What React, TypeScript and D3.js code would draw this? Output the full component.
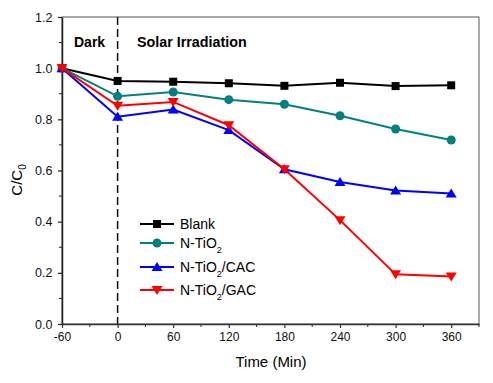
import React, { useEffect, useRef } from "react";
import * as d3 from "d3";

// time points (min)
const times = [-60, 0, 60, 120, 180, 240, 300, 360];
const blank = [1.0, 0.95, 0.947, 0.941, 0.931, 0.943, 0.93, 0.933];
const nTiO2 = [1.0, 0.89, 0.907, 0.877, 0.859, 0.814, 0.762, 0.719];
const nTiO2CAC = [1.0, 0.81, 0.838, 0.758, 0.605, 0.555, 0.522, 0.51];
const nTiO2GAC = [1.0, 0.853, 0.868, 0.777, 0.605, 0.406, 0.194, 0.186];

const xTicks = [-60, 0, 60, 120, 180, 240, 300, 360];
const yTicks = [0.0, 0.2, 0.4, 0.6, 0.8, 1.0, 1.2];

const seriesList = [
  { name: "Blank", sub: "", tail: "", values: blank, color: "#000000", marker: "square" },
  { name: "N-TiO", sub: "2", tail: "", values: nTiO2, color: "#008080", marker: "circle" },
  { name: "N-TiO", sub: "2", tail: "/CAC", values: nTiO2CAC, color: "#0000ff", marker: "up" },
  { name: "N-TiO", sub: "2", tail: "/GAC", values: nTiO2GAC, color: "#ff0000", marker: "down" },
];

const font = "'Liberation Sans', Arial, sans-serif";

function App() {
  const ref = useRef<SVGSVGElement>(null);

  useEffect(() => {
    const svg = d3.select(ref.current);
    svg.selectAll("*").remove();

    const left = 62, right = 479, top = 17, bottom = 324;
    const x = d3.scaleLinear().domain([-60, 390]).range([left, right]);
    const y = d3.scaleLinear().domain([0, 1.2]).range([bottom, top]);

    svg.append("rect").attr("width", 493).attr("height", 383).attr("fill", "#fff");

    // frame (top/right)
    svg.append("rect")
      .attr("x", left).attr("y", top)
      .attr("width", right - left).attr("height", bottom - top)
      .attr("fill", "none").attr("stroke", "#555").attr("stroke-width", 1);

    // x axis
    const xAxis = svg.append("g").attr("transform", `translate(0,${bottom})`)
      .call(d3.axisBottom(x).tickValues(xTicks).tickSize(4).tickSizeOuter(0).tickFormat((d: any) => String(d)));
    xAxis.select(".domain").attr("stroke", "#333").attr("stroke-width", 1.5);
    xAxis.selectAll(".tick line").attr("stroke", "#333").attr("stroke-width", 1.2);
    xAxis.selectAll("text").attr("font-family", font).attr("font-size", 12).attr("fill", "#111").attr("dy", "0.85em");
    svg.append("g").attr("transform", `translate(0,${bottom})`)
      .selectAll("line").data(d3.range(-30, 391, 60)).join("line")
      .attr("x1", (d) => x(d)).attr("x2", (d) => x(d)).attr("y1", 0).attr("y2", 3)
      .attr("stroke", "#333").attr("stroke-width", 1);

    // y axis
    const yAxis = svg.append("g").attr("transform", `translate(${left},0)`)
      .call(d3.axisLeft(y).tickValues(yTicks).tickSize(4).tickSizeOuter(0).tickFormat(d3.format(".1f")));
    yAxis.select(".domain").attr("stroke", "#222").attr("stroke-width", 1.5);
    yAxis.selectAll(".tick line").attr("stroke", "#222").attr("stroke-width", 1.2);
    yAxis.selectAll("text").attr("font-family", font).attr("font-size", 12.5).attr("fill", "#111").attr("dx", "-0.2em");
    svg.append("g").attr("transform", `translate(${left},0)`)
      .selectAll("line").data(d3.range(0.1, 1.2, 0.2)).join("line")
      .attr("x1", -3).attr("x2", 0).attr("y1", (d) => y(d)).attr("y2", (d) => y(d))
      .attr("stroke", "#222").attr("stroke-width", 1);

    // dashed separator at t=0
    svg.append("line")
      .attr("x1", x(0)).attr("x2", x(0)).attr("y1", top).attr("y2", bottom)
      .attr("stroke", "#111").attr("stroke-width", 1.5).attr("stroke-dasharray", "8,4");

    svg.append("text").attr("x", 74).attr("y", 47).text("Dark")
      .attr("font-family", font).attr("font-weight", "bold").attr("font-size", 14);
    svg.append("text").attr("x", 137).attr("y", 47).text("Solar Irradiation")
      .attr("font-family", font).attr("font-weight", "bold").attr("font-size", 14.3);

    const drawMarker = (g: any, type: string, cx: number, cy: number, color: string) => {
      if (type === "square") {
        g.append("rect").attr("x", cx - 4).attr("y", cy - 4).attr("width", 8).attr("height", 8).attr("fill", color);
      } else if (type === "circle") {
        g.append("circle").attr("cx", cx).attr("cy", cy).attr("r", 4.5).attr("fill", color);
      } else if (type === "up") {
        g.append("path").attr("d", `M${cx},${cy - 5}L${cx + 5.5},${cy + 4}L${cx - 5.5},${cy + 4}Z`).attr("fill", color);
      } else {
        g.append("path").attr("d", `M${cx},${cy + 5}L${cx + 5.5},${cy - 4}L${cx - 5.5},${cy - 4}Z`).attr("fill", color);
      }
    };

    const line = d3.line<number>().x((d, i) => x(times[i])).y((d) => y(d));

    seriesList.forEach((s) => {
      const g = svg.append("g");
      g.append("path").attr("d", line(s.values)).attr("fill", "none")
        .attr("stroke", s.color).attr("stroke-width", 2);
      s.values.forEach((v, i) => drawMarker(g, s.marker, x(times[i]), y(v), s.color));
    });

    // legend
    const legendRows = [224, 243, 267, 290];
    seriesList.forEach((s, i) => {
      const ly = legendRows[i];
      const g = svg.append("g");
      g.append("line").attr("x1", 140).attr("x2", 174).attr("y1", ly).attr("y2", ly)
        .attr("stroke", s.color).attr("stroke-width", 2);
      drawMarker(g, s.marker, 157, ly, s.color);
      const t = g.append("text").attr("x", 180).attr("y", ly + 5)
        .attr("font-family", font).attr("font-size", 14).attr("fill", "#000");
      t.append("tspan").text(s.name);
      if (s.sub) {
        t.append("tspan").text(s.sub).attr("font-size", 9).attr("dy", 5);
        if (s.tail) t.append("tspan").text(s.tail).attr("dy", -5);
      }
    });

    // axis titles
    svg.append("text").attr("x", 271).attr("y", 367).attr("text-anchor", "middle")
      .attr("font-family", font).attr("font-size", 15).text("Time (Min)");
    const yl = svg.append("text").attr("transform", "translate(22,180) rotate(-90)")
      .attr("text-anchor", "middle").attr("font-family", font).attr("font-size", 15);
    yl.append("tspan").text("C/C");
    yl.append("tspan").text("0").attr("font-size", 10).attr("dy", 4);
  }, []);

  return (
    <svg ref={ref} width={493} height={383} style={{ position: "absolute", left: 0, top: 0 }} />
  );
}

export default App;
